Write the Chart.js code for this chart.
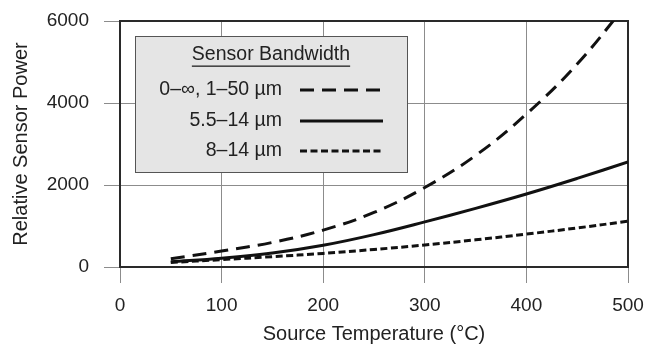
<!DOCTYPE html>
<html><head><meta charset="utf-8">
<script src="https://cdn.jsdelivr.net/npm/chart.js@4/dist/chart.umd.min.js"></script>
<style>html,body{margin:0;padding:0;background:#fff}#wrap{width:649px;height:346px}</style>
</head><body><div id="wrap"><canvas id="c" width="649" height="346"></canvas></div>
<script>
const temperatures = [50, 100, 150, 200, 250, 300, 350, 400, 450, 500];
const broadband   = [200, 390, 600, 900, 1330, 1940, 2720, 3730, 4950, 6450];
const band55to14  = [130, 215, 340, 530, 790, 1100, 1430, 1780, 2160, 2560];
const band8to14   = [110, 180, 252, 332, 427, 537, 662, 802, 952, 1117];
const seriesLabels = ['0–∞, 1–50 µm', '5.5–14 µm', '8–14 µm'];
const xTicks = [0, 100, 200, 300, 400, 500];
const yTicks = [0, 2000, 4000, 6000];
const legendTitle = 'Sensor Bandwidth';
const xTitle = 'Source Temperature (°C)';
const yTitle = 'Relative Sensor Power';

const FONT = '"Liberation Sans", Arial, sans-serif';
const TXT = '#222';
const dashes = [[14, 8], [], [7, 3.5]];
const seriesValues = [broadband, band55to14, band8to14];

const datasets = seriesValues.map((vals, i) => ({
  label: seriesLabels[i],
  data: temperatures.map((t, j) => ({x: t, y: vals[j]})),
  borderColor: '#111',
  borderWidth: 3,
  borderDash: dashes[i],
  pointRadius: 0,
  tension: 0.4,
  fill: false
}));

const framePlugin = {
  id: 'frame',
  beforeDatasetsDraw(chart) {
    const a = chart.chartArea, ctx = chart.ctx;
    ctx.save();
    ctx.strokeStyle = '#2a2a2a';
    ctx.lineWidth = 2;
    ctx.strokeRect(a.left, a.top, a.right - a.left, a.bottom - a.top);
    ctx.restore();
  }
};

const legendPlugin = {
  id: 'boxLegend',
  afterDraw(chart) {
    const ctx = chart.ctx;
    const bx = 135, by = 36, bw = 272, bh = 136;
    ctx.save();
    ctx.fillStyle = '#e5e5e5';
    ctx.fillRect(bx, by, bw, bh);
    ctx.strokeStyle = '#555';
    ctx.lineWidth = 1;
    ctx.strokeRect(bx + 0.5, by + 0.5, bw, bh);
    ctx.font = '19.5px ' + FONT;
    ctx.fillStyle = TXT;
    ctx.textBaseline = 'middle';
    ctx.textAlign = 'center';
    ctx.fillText(legendTitle, 271, 55);
    const tw = ctx.measureText(legendTitle).width;
    ctx.fillRect(271 - tw / 2, 65.5, tw, 1.3);
    const rows = [90, 121, 151];
    chart.data.datasets.forEach((ds, i) => {
      ctx.textAlign = 'right';
      ctx.fillStyle = TXT;
      ctx.fillText(ds.label, 282, rows[i]);
      ctx.beginPath();
      ctx.setLineDash(ds.borderDash || []);
      ctx.strokeStyle = ds.borderColor;
      ctx.lineWidth = ds.borderWidth;
      ctx.moveTo(300, rows[i]);
      ctx.lineTo(383, rows[i]);
      ctx.stroke();
    });
    ctx.restore();
  }
};

const zeroPad = s => { s.paddingTop = 0; s.paddingBottom = 0; s.paddingLeft = 0; s.paddingRight = 0; };

new Chart(document.getElementById('c'), {
  type: 'line',
  data: {datasets},
  options: {
    responsive: false,
    devicePixelRatio: 1,
    animation: false,
    layout: {padding: {top: 21, right: 21, left: 0, bottom: 0}},
    plugins: {legend: {display: false}, tooltip: {enabled: false}},
    scales: {
      x: {
        type: 'linear', min: 0, max: 500,
        afterBuildTicks: s => { s.ticks = xTicks.map(v => ({value: v})); },
        afterFit: s => { s.height = 79; zeroPad(s); },
        grid: {color: '#8c8c8c', lineWidth: 1, tickLength: 16, tickColor: '#8c8c8c'},
        border: {display: false},
        ticks: {padding: 11, color: TXT, font: {family: FONT, size: 19}, maxRotation: 0, callback: v => String(v)},
        title: {display: true, text: xTitle, color: TXT, font: {family: FONT, size: 20}, padding: {top: 0, bottom: 0}}
      },
      y: {
        type: 'linear', min: 0, max: 6000,
        afterBuildTicks: s => { s.ticks = yTicks.map(v => ({value: v})); },
        afterFit: s => { s.width = 120; zeroPad(s); },
        grid: {color: '#8c8c8c', lineWidth: 1, tickLength: 16, tickColor: '#8c8c8c'},
        border: {display: false},
        ticks: {padding: 15, color: TXT, font: {family: FONT, size: 19}, callback: v => String(v)},
        title: {display: true, text: yTitle, color: TXT, font: {family: FONT, size: 20}, padding: {top: 9, bottom: 0}}
      }
    }
  },
  plugins: [framePlugin, legendPlugin]
});
</script></body></html>
